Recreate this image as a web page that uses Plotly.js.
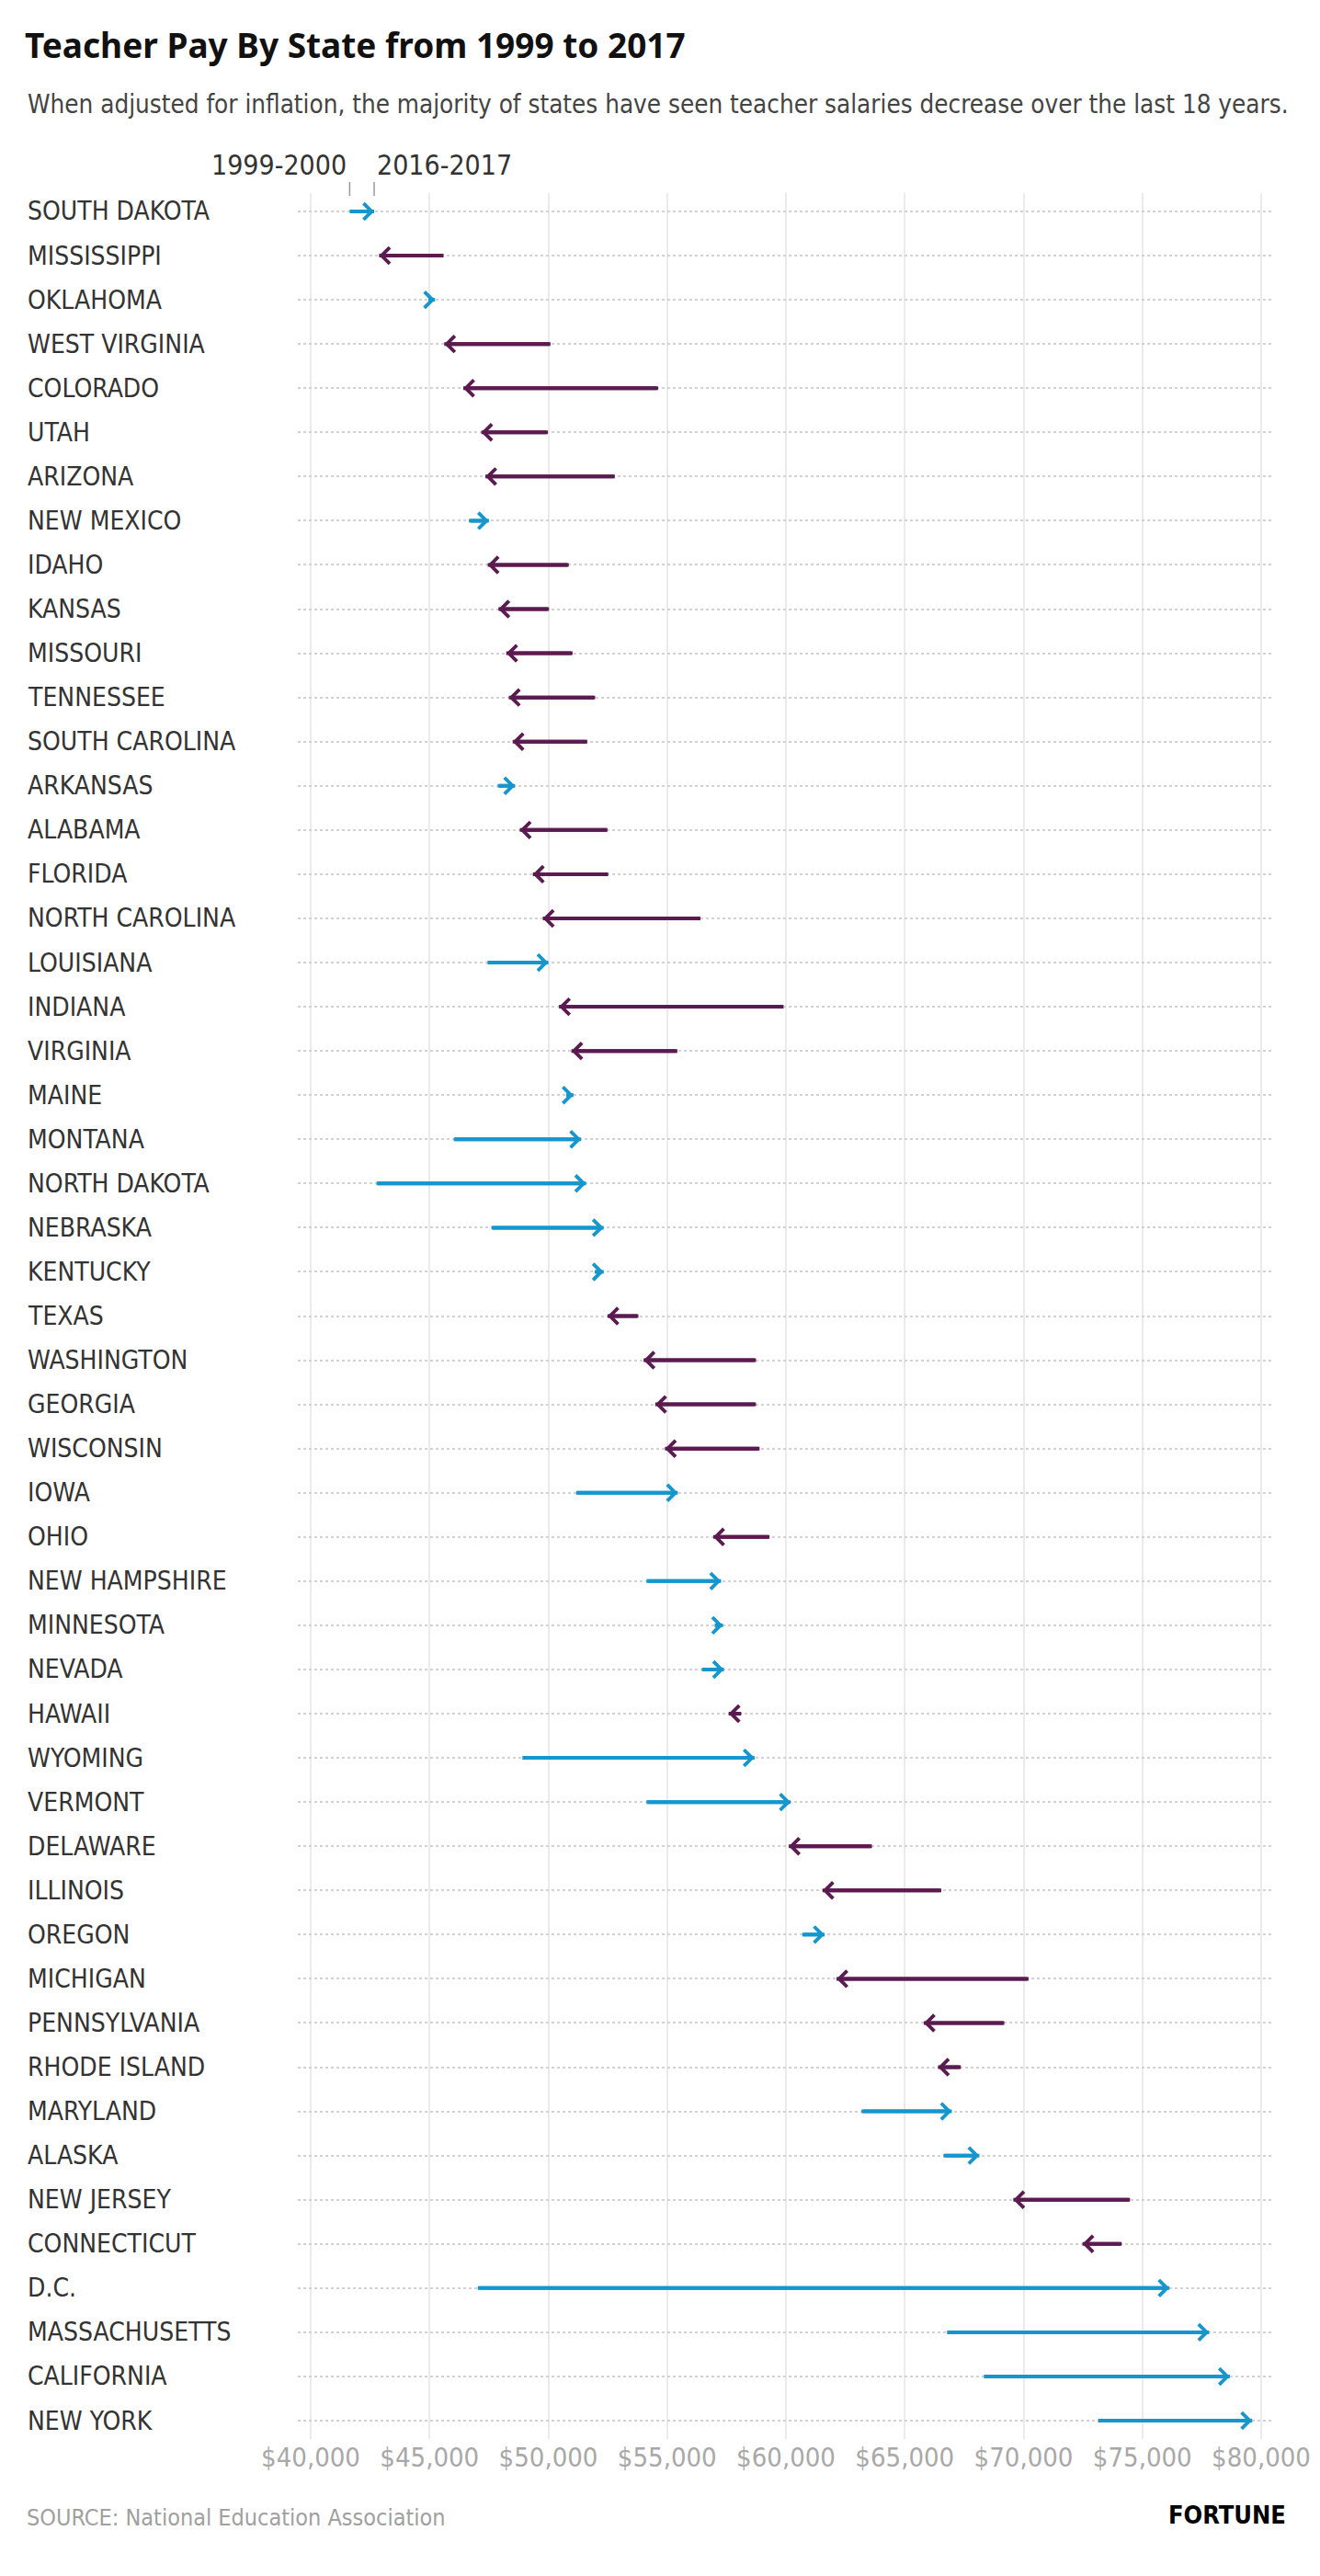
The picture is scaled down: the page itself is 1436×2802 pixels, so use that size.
<!DOCTYPE html>
<html>
<head>
<meta charset="utf-8">
<script src="https://cdn.plot.ly/plotly-3.0.1.min.js"></script>
<style>
  html, body { margin: 0; padding: 0; background: #ffffff; }
  #chart { width: 1436px; height: 2802px; }
  .gtitle { font-stretch: extra-condensed !important; }
</style>
</head>
<body>
<div id="chart"></div>
<script>
// ---- DATA ----
const states = [
  "SOUTH DAKOTA", "MISSISSIPPI", "OKLAHOMA", "WEST VIRGINIA", "COLORADO", "UTAH",
  "ARIZONA", "NEW MEXICO", "IDAHO", "KANSAS", "MISSOURI", "TENNESSEE",
  "SOUTH CAROLINA", "ARKANSAS", "ALABAMA", "FLORIDA", "NORTH CAROLINA", "LOUISIANA",
  "INDIANA", "VIRGINIA", "MAINE", "MONTANA", "NORTH DAKOTA", "NEBRASKA",
  "KENTUCKY", "TEXAS", "WASHINGTON", "GEORGIA", "WISCONSIN", "IOWA",
  "OHIO", "NEW HAMPSHIRE", "MINNESOTA", "NEVADA", "HAWAII", "WYOMING",
  "VERMONT", "DELAWARE", "ILLINOIS", "OREGON", "MICHIGAN", "PENNSYLVANIA",
  "RHODE ISLAND", "MARYLAND", "ALASKA", "NEW JERSEY", "CONNECTICUT", "D.C.",
  "MASSACHUSETTS", "CALIFORNIA", "NEW YORK"
];
// 1999-2000 salary (inflation adjusted)
const pay1999 = [
  41640, 45590, 44950, 50090, 54620, 49980,
  52800, 46660, 50860, 50030, 51020, 51970,
  51640, 47870, 52490, 52520, 56400, 47440,
  59900, 55430, 50750, 46020, 42770, 47610,
  51950, 53790, 58740, 58740, 58890, 51170,
  59310, 54130, 57000, 56460, 58120, 48910,
  54130, 63620, 66540, 60690, 70210, 69190,
  67360, 63180, 66630, 74480, 74130, 47030,
  66780, 68330, 73140
];
// 2016-2017 salary
const pay2016 = [
  42670, 42880, 45230, 45620, 46420, 47180,
  47350, 47500, 47450, 47900, 48230, 48340,
  48500, 48600, 48800, 49350, 49770, 50000,
  50450, 50970, 51060, 51380, 51590, 52330,
  52330, 52490, 54010, 54500, 54910, 55450,
  56940, 57270, 57350, 57390, 57590, 58680,
  60200, 60120, 61540, 61630, 62130, 65800,
  66400, 66980, 68140, 69570, 72480, 76140,
  77810, 78680, 79620
];
const tickValues = [40000, 45000, 50000, 55000, 60000, 65000, 70000, 75000, 80000];
const tickLabels = ["$40,000", "$45,000", "$50,000", "$55,000", "$60,000", "$65,000", "$70,000", "$75,000", "$80,000"];
const legendLabels = ["1999-2000", "2016-2017"];

// ---- STYLE / LAYOUT ----
const W = 1436, H = 2802, L = 324, R = 53, T = 210, B = 149;
const pw = W - L - R, ph = H - T - B;
const px2x = p => (p - L) / pw;
const py2y = p => (H - B - p) / ph;

const BLUE = "#1696cd";
const PURPLE = "#5b1a50";
const TEXTFONT = "DejaVu Sans Condensed, sans-serif";
const NUMFONT = "DejaVu Sans Condensed, sans-serif";

function segs(filterUp) {
  const xs = [], ys = [];
  states.forEach((s, i) => {
    const up = pay2016[i] >= pay1999[i];
    if (up === filterUp) {
      xs.push(pay1999[i], pay2016[i], null);
      ys.push(s, s, null);
    }
  });
  return {xs, ys};
}
const upSeg = segs(true), downSeg = segs(false);

const traces = [
  {
    type: "scatter", mode: "lines", x: upSeg.xs, y: upSeg.ys,
    line: {color: BLUE, width: 4}, connectgaps: false, hoverinfo: "x+y", showlegend: false
  },
  {
    type: "scatter", mode: "lines", x: downSeg.xs, y: downSeg.ys,
    line: {color: PURPLE, width: 4}, connectgaps: false, hoverinfo: "x+y", showlegend: false
  }
];

const annotations = [];
states.forEach((s, i) => {
  const up = pay2016[i] >= pay1999[i];
  annotations.push({
    x: pay2016[i], y: s, xref: "x", yref: "y",
    ax: pay1999[i], axref: "x", ay: 0, ayref: "pixel",
    text: "", showarrow: true, arrowhead: 4, arrowsize: 0.85, arrowwidth: 4,
    arrowcolor: up ? BLUE : PURPLE, standoff: 0
  });
  annotations.push({
    x: px2x(28), xref: "paper", xanchor: "left",
    y: s, yref: "y", yanchor: "middle",
    text: s, showarrow: false,
    font: {family: TEXTFONT, size: 28, color: "#333333"}
  });
});
annotations.push({
  x: pay1999[0], xref: "x", xanchor: "right", xshift: -1,
  y: py2y(179), yref: "paper", yanchor: "middle",
  text: legendLabels[0], showarrow: false,
  font: {family: NUMFONT, size: 30, color: "#333333"}
});
annotations.push({
  x: pay2016[0], xref: "x", xanchor: "left", xshift: 1,
  y: py2y(179), yref: "paper", yanchor: "middle",
  text: legendLabels[1], showarrow: false,
  font: {family: NUMFONT, size: 30, color: "#333333"}
});
annotations.push({
  x: px2x(28), xref: "paper", xanchor: "left",
  y: py2y(113), yref: "paper", yanchor: "middle",
  text: "When adjusted for inflation, the majority of states have seen teacher salaries decrease over the last 18 years.",
  showarrow: false,
  font: {family: TEXTFONT, size: 27.6, color: "#444444"}
});
annotations.push({
  x: px2x(27), xref: "paper", xanchor: "left",
  y: py2y(2738), yref: "paper", yanchor: "middle",
  text: "SOURCE: National Education Association", showarrow: false,
  font: {family: TEXTFONT, size: 25, color: "#a0a0a0"}
});
annotations.push({
  x: px2x(1401), xref: "paper", xanchor: "right",
  y: py2y(2735), yref: "paper", yanchor: "middle",
  text: "<b>FORTUNE</b>", showarrow: false,
  font: {family: TEXTFONT, size: 27, color: "#000000"}
});

const shapes = [
  {type: "line", xref: "x", yref: "paper", x0: pay1999[0], x1: pay1999[0],
   y0: py2y(213), y1: py2y(198), line: {color: "#999999", width: 1.5}},
  {type: "line", xref: "x", yref: "paper", x0: pay2016[0], x1: pay2016[0],
   y0: py2y(213), y1: py2y(198), line: {color: "#999999", width: 1.5}}
];

const layout = {
  width: W, height: H,
  margin: {l: L, r: R, t: T, b: B, pad: 0},
  paper_bgcolor: "#ffffff", plot_bgcolor: "#ffffff",
  showlegend: false,
  title: {
    text: "<b>Teacher Pay By State from 1999 to 2017</b>",
    x: 27 / W, xref: "container", xanchor: "left",
    y: 1 - 50 / H, yref: "container", yanchor: "middle",
    font: {family: "Noto Sans, DejaVu Sans, sans-serif", size: 37, color: "#111111"}
  },
  xaxis: {
    range: [39458, 80425], tickvals: tickValues, ticktext: tickLabels,
    showgrid: true, gridcolor: "#ebebeb", gridwidth: 2,
    zeroline: false, showline: false, ticks: "",
    tickfont: {family: NUMFONT, size: 29, color: "#a8a8a8"},
    fixedrange: true
  },
  yaxis: {
    type: "category", categoryorder: "array", categoryarray: states,
    range: [50.416, -0.416], autorange: false,
    showgrid: true, gridcolor: "#d2d2d2", gridwidth: 2, griddash: "dot",
    zeroline: false, showline: false, showticklabels: false, ticks: "",
    fixedrange: true
  },
  annotations: annotations,
  shapes: shapes
};

Plotly.newPlot("chart", traces, layout, {displayModeBar: false, staticPlot: true});
</script>
</body>
</html>
